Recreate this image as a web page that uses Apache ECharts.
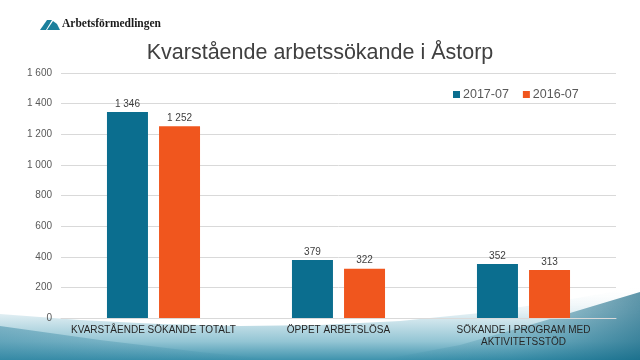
<!DOCTYPE html>
<html><head><meta charset="utf-8">
<script src="https://cdn.jsdelivr.net/npm/echarts@6/dist/echarts.min.js"></script>
<style>html,body{margin:0;padding:0;background:#fff}#c{width:640px;height:360px}</style>
</head><body><div id="c"></div>
<script>
var categories = ['KVARSTÅENDE SÖKANDE TOTALT', 'ÖPPET ARBETSLÖSA', 'SÖKANDE I PROGRAM MED\nAKTIVITETSSTÖD'];
var seriesNames = ['2017-07', '2016-07'];
var values2017 = [1346, 379, 352];
var values2016 = [1252, 322, 313];
var yTicks = {min: 0, max: 1600, interval: 200};

function fmt(v){ return String(v).replace(/\B(?=(\d{3})+(?!\d))/g, ' '); }

var wave = [[0,314],[80,320],[160,324],[240,326],[320,325],[400,321],[480,313],[560,301],[600,294],[640,286],[640,360],[0,360]];
var rightDark = [[380,360],[460,345],[540,322],[600,304],[640,292],[640,360]];
var leftDark = [[0,326],[100,340],[200,352],[280,360],[0,360]];

var chart = echarts.init(document.getElementById('c'));
chart.setOption({
  animation: false,
  graphic: [
    {type:'polygon', silent:true, z:-10, shape:{points:wave},
      style:{fill:{type:'linear',x:0,y:0,x2:0,y2:1,colorStops:[
        {offset:0,color:'rgba(255,255,255,0)'},{offset:0.4,color:'#dcecf1'},{offset:0.75,color:'#93c5d4'},{offset:1,color:'#3f93ad'}]}}},
    {type:'polygon', silent:true, z:-9, shape:{points:rightDark},
      style:{fill:{type:'linear',x:0,y:0,x2:1,y2:0,colorStops:[
        {offset:0,color:'rgba(20,110,140,0)'},{offset:0.5,color:'rgba(20,110,140,0.25)'},{offset:1,color:'rgba(10,95,125,0.65)'}]}}},
    {type:'polygon', silent:true, z:-9, shape:{points:leftDark},
      style:{fill:{type:'linear',x:0,y:0,x2:1,y2:0,colorStops:[
        {offset:0,color:'rgba(40,125,155,0.45)'},{offset:1,color:'rgba(40,125,155,0)'}]}}},
    {type:'polygon', silent:true, shape:{points:[[40,30],[47,20],[52,20],[46,30]]}, style:{fill:'#1b7f9c'}},
    {type:'polygon', silent:true, shape:{points:[[47,30],[53,21],[57,24],[60,30]]}, style:{fill:'#1b7f9c'}},
    {type:'text', silent:true, left:62, top:18, style:{text:'Arbetsförmedlingen', fill:'#1a1a1a', font:'bold 11.5px "Liberation Serif", "DejaVu Serif", serif'}}
  ],
  title: {text:'Kvarstående arbetssökande i Åstorp', left:'center', top:37,
    textStyle:{fontFamily:'"Liberation Sans", Arial, sans-serif', fontSize:21.5, fontWeight:'normal', color:'#404040'}},
  legend: {data: seriesNames, left:448, top:83, itemWidth:7, itemHeight:7, itemGap:14, icon:'rect',
    textStyle:{fontFamily:'"Liberation Sans", Arial, sans-serif', fontSize:12.5, color:'#595959', padding:[0,0,0,-2]}},
  grid: {left:61, right:24, top:73, bottom:42, containLabel:false},
  xAxis: {type:'category', data: categories,
    axisLine:{show:true, lineStyle:{color:'#d9d9d9'}}, axisTick:{show:false},
    axisLabel:{interval:0, fontFamily:'"Liberation Sans", Arial, sans-serif', fontSize:10, color:'#262626', margin:6, lineHeight:12}},
  yAxis: {type:'value', min:yTicks.min, max:yTicks.max, interval:yTicks.interval,
    axisLine:{show:false}, axisTick:{show:false},
    splitLine:{lineStyle:{color:'#d9d9d9'}},
    axisLabel:{formatter:fmt, fontFamily:'"Liberation Sans", Arial, sans-serif', fontSize:10, color:'#595959', margin:9}},
  series: [
    {name:seriesNames[0], type:'bar', data:values2017, barWidth:41, barGap:'27%',
      itemStyle:{color:'#0b6e8f'},
      label:{show:true, position:'top', formatter:function(p){return fmt(p.value);}, fontFamily:'"Liberation Sans", Arial, sans-serif', fontSize:10, color:'#404040', distance:3}},
    {name:seriesNames[1], type:'bar', data:values2016, barWidth:41,
      itemStyle:{color:'#f0561e'},
      label:{show:true, position:'top', formatter:function(p){return fmt(p.value);}, fontFamily:'"Liberation Sans", Arial, sans-serif', fontSize:10, color:'#404040', distance:3}}
  ]
});
</script></body></html>
